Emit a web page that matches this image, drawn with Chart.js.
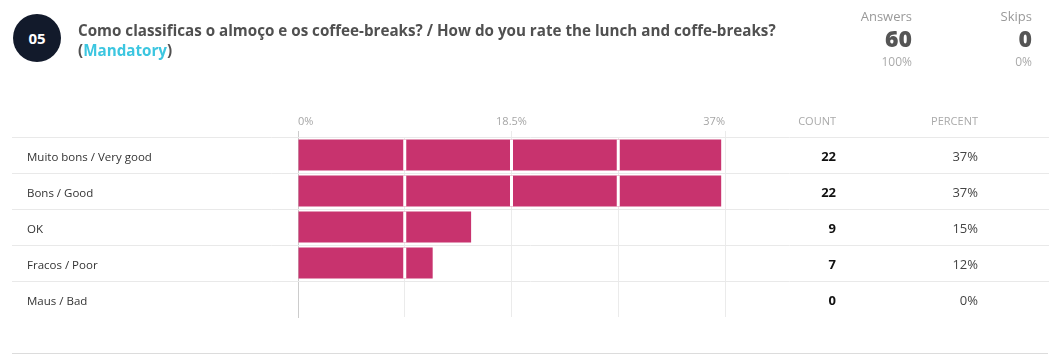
<!DOCTYPE html>
<html>
<head>
<meta charset="utf-8">
<script src="https://cdn.jsdelivr.net/npm/chart.js@4.4.1/dist/chart.umd.min.js"></script>
<style>
  html, body { margin:0; padding:0; background:#fff; width:1060px; height:364px; overflow:hidden; font-family:"Open Sans", sans-serif; }
  #wrap { position:relative; width:1060px; height:364px; }
  canvas { position:absolute; left:0; top:0; }
  .abs { position:absolute; white-space:nowrap; }
  #badge { left:13px; top:14px; width:48px; height:48px; border-radius:50%; background:#121a2b; color:#fff; font-weight:700; font-size:15px; line-height:48px; text-align:center; }
  #title { left:78px; top:20px; font-weight:700; font-size:15.2px; line-height:20px; color:#505050; }
  #title .m { color:#3cc6e0; }
  .stat { text-align:right; }
  .lbl { font-size:13px; color:#999; line-height:16px; }
  .num { font-size:23px; font-weight:800; color:#555; line-height:26px; }
  .pct { font-size:12px; color:#aaa; line-height:16px; }
  #bottomline { left:12px; top:353px; width:1036px; height:1px; background:#dcdcdc; }
</style>
</head>
<body>
<div id="wrap">
  <canvas id="c" width="1060" height="364"></canvas>
  <div id="badge" class="abs">05</div>
  <div id="title" class="abs">Como classificas o almoço e os coffee-breaks? / How do you rate the lunch and coffe-breaks?<br>(<span class="m">Mandatory</span>)</div>
  <div class="abs stat lbl" style="right:148px; top:8px;">Answers</div>
  <div class="abs stat num" style="right:148px; top:25px;">60</div>
  <div class="abs stat pct" style="right:148px; top:54px;">100%</div>
  <div class="abs stat lbl" style="right:28px; top:8px;">Skips</div>
  <div class="abs stat num" style="right:28px; top:25px;">0</div>
  <div class="abs stat pct" style="right:28px; top:54px;">0%</div>
  <div id="bottomline" class="abs"></div>
</div>
<script>
// ---- data ----
const categories = ["Muito bons / Very good", "Bons / Good", "OK", "Fracos / Poor", "Maus / Bad"];
const counts = [22, 22, 9, 7, 0];
const percentValues = [36.67, 36.67, 15.0, 11.67, 0];
const percentLabels = ["37%", "37%", "15%", "12%", "0%"];
const xTickLabels = ["0%", "", "18.5%", "", "37%"];
const xMax = 37;
const xStep = 9.25;

const FONT = '"Open Sans", sans-serif';

const rowLinesPlugin = {
  id: 'rowLines',
  beforeDatasetsDraw(chart) {
    const { ctx, chartArea, scales } = chart;
    const y = scales.y;
    const n = categories.length;
    const rowH = (chartArea.bottom - chartArea.top) / n;
    ctx.save();
    ctx.strokeStyle = '#e9e9e9';
    ctx.lineWidth = 1;
    for (let i = 0; i < n; i++) {
      const py = Math.round(y.getPixelForValue(i) - rowH / 2) + 0.5;
      ctx.beginPath();
      ctx.moveTo(12, py);
      ctx.lineTo(1049, py);
      ctx.stroke();
    }
    ctx.restore();
  }
};

const barGapsPlugin = {
  id: 'barGaps',
  afterDatasetsDraw(chart) {
    const { ctx, scales } = chart;
    const xs = scales.x;
    const meta = chart.getDatasetMeta(0);
    ctx.save();
    ctx.fillStyle = '#ffffff';
    meta.data.forEach(bar => {
      const p = bar.getProps(['x', 'y', 'base', 'height'], true);
      xs.ticks.forEach(t => {
        const px = xs.getPixelForValue(t.value);
        if (px > p.base + 1 && px < p.x) {
          ctx.fillRect(px - 1.5, p.y - p.height / 2, 3, p.height);
        }
      });
    });
    ctx.restore();
  }
};

const columnsPlugin = {
  id: 'columns',
  afterDraw(chart) {
    const { ctx, chartArea, scales } = chart;
    const y = scales.y;
    const countX = 836, pctX = 978;
    const headY = chartArea.top - 15;
    ctx.save();
    ctx.textAlign = 'right';
    ctx.textBaseline = 'middle';
    ctx.fillStyle = '#aaaaaa';
    ctx.font = '11px ' + FONT;
    ctx.fillText('COUNT', countX, headY);
    ctx.fillText('PERCENT', pctX, headY);
    categories.forEach((c, i) => {
      const py = y.getPixelForValue(i);
      ctx.font = '700 13px ' + FONT;
      ctx.fillStyle = '#111111';
      ctx.fillText(String(counts[i]), countX, py + 2.5);
      ctx.font = '13px ' + FONT;
      ctx.fillStyle = '#444444';
      ctx.fillText(percentLabels[i], pctX, py + 2.5);
    });
    ctx.restore();
  }
};

new Chart(document.getElementById('c'), {
  type: 'bar',
  data: {
    labels: categories,
    datasets: [{
      data: percentValues,
      backgroundColor: '#c8336e',
      borderWidth: 0,
      barPercentage: 0.86,
      categoryPercentage: 1.0
    }]
  },
  options: {
    indexAxis: 'y',
    responsive: false,
    animation: false,
    devicePixelRatio: 1,
    layout: { padding: { left: 27, right: 335, top: 0, bottom: 47 } },
    plugins: { legend: { display: false }, tooltip: { enabled: false }, title: { display: false } },
    scales: {
      x: {
        position: 'top',
        min: 0,
        max: xMax,
        afterFit(s) { s.height = 137; },
        afterBuildTicks(s) {
          s.ticks = xTickLabels.map((l, i) => ({ value: i * xStep }));
        },
        ticks: {
          stepSize: xStep,
          autoSkip: false,
          maxRotation: 0,
          align: 'inner',
          padding: 3,
          color: '#a6a6a6',
          font: { family: FONT, size: 11 },
          callback: (v, i) => xTickLabels[i]
        },
        grid: {
          color: (c) => c.index === 0 ? '#cccccc' : '#ebebeb',
          tickColor: (c) => xTickLabels[c.index] ? (c.index === 0 ? '#cccccc' : '#ebebeb') : 'rgba(0,0,0,0)',
          tickLength: 6,
          lineWidth: 1
        },
        border: { display: false }
      },
      y: {
        afterFit(s) { s.width = 271; },
        grid: { display: false },
        border: { display: true, color: '#cccccc', width: 1 },
        ticks: {
          crossAlign: 'far',
          color: '#333333',
          font: { family: FONT, size: 11.5 },
          padding: 0,
          labelOffset: 2.5
        }
      }
    }
  },
  plugins: [rowLinesPlugin, barGapsPlugin, columnsPlugin]
});
</script>
</body>
</html>
